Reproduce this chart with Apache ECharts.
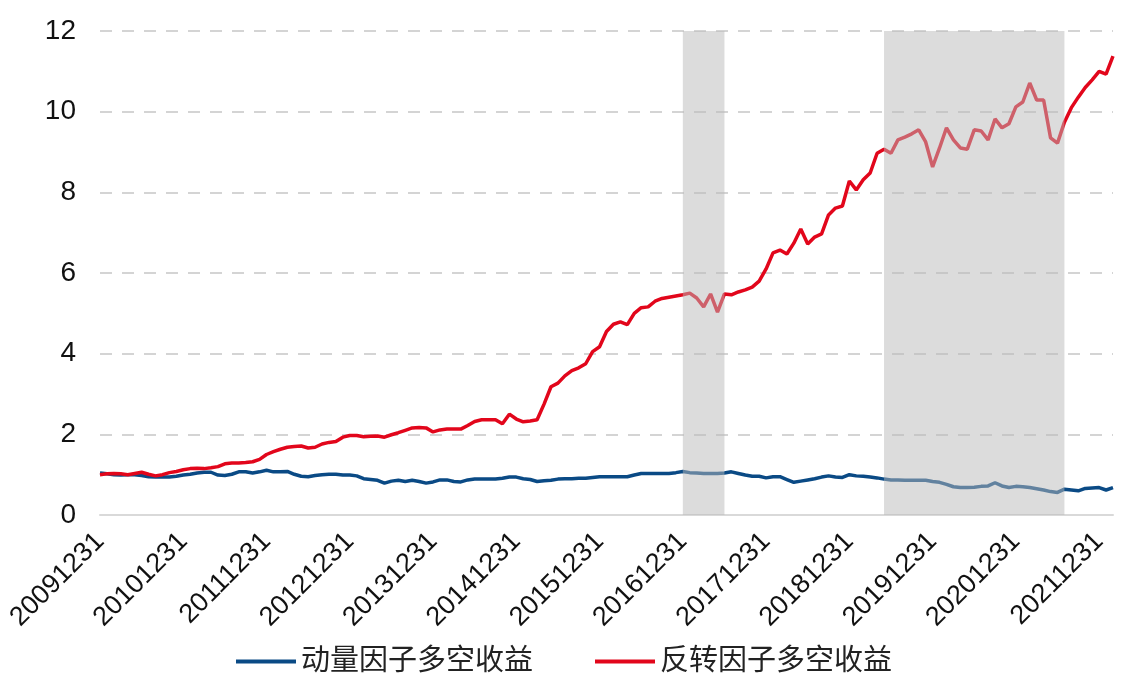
<!DOCTYPE html>
<html>
<head>
<meta charset="utf-8">
<script src="https://cdn.jsdelivr.net/npm/echarts@6/dist/echarts.min.js"></script>
<style>html,body{margin:0;padding:0;background:#fff}#c{width:1128px;height:687px}</style>
</head>
<body>
<div id="c"></div>
<script>
const dates = [
'20091231',
'20100131','20100228','20100331','20100430','20100531','20100630','20100731','20100831','20100930','20101031','20101130','20101231',
'20110131','20110228','20110331','20110430','20110531','20110630','20110731','20110831','20110930','20111031','20111130','20111231',
'20120131','20120229','20120331','20120430','20120531','20120630','20120731','20120831','20120930','20121031','20121130','20121231',
'20130131','20130228','20130331','20130430','20130531','20130630','20130731','20130831','20130930','20131031','20131130','20131231',
'20140131','20140228','20140331','20140430','20140531','20140630','20140731','20140831','20140930','20141031','20141130','20141231',
'20150131','20150228','20150331','20150430','20150531','20150630','20150731','20150831','20150930','20151031','20151130','20151231',
'20160131','20160229','20160331','20160430','20160531','20160630','20160731','20160831','20160930','20161031','20161130','20161231',
'20170131','20170228','20170331','20170430','20170531','20170630','20170731','20170831','20170930','20171031','20171130','20171231',
'20180131','20180228','20180331','20180430','20180531','20180630','20180731','20180831','20180930','20181031','20181130','20181231',
'20190131','20190228','20190331','20190430','20190531','20190630','20190731','20190831','20190930','20191031','20191130','20191231',
'20200131','20200229','20200331','20200430','20200531','20200630','20200731','20200831','20200930','20201031','20201130','20201231',
'20210131','20210228','20210331','20210430','20210531','20210630','20210731','20210831','20210930','20211031','20211130','20211231',
'20220131','20220228'
];

const momentum = [
1.04,1.02,1.0,0.99,1.0,1.0,0.98,0.95,0.94,0.94,
0.94,0.96,0.99,1.01,1.04,1.06,1.06,0.99,0.98,1.01,
1.07,1.07,1.04,1.07,1.11,1.07,1.07,1.08,1.01,0.96,
0.95,0.98,1.0,1.01,1.01,0.99,0.99,0.97,0.9,0.88,
0.86,0.79,0.84,0.86,0.83,0.86,0.83,0.79,0.82,0.87,
0.87,0.83,0.82,0.87,0.89,0.89,0.89,0.89,0.91,0.94,
0.94,0.9,0.88,0.83,0.85,0.86,0.89,0.9,0.9,0.91,
0.91,0.93,0.95,0.95,0.95,0.95,0.95,0.99,1.03,1.03,
1.03,1.03,1.03,1.05,1.08,1.05,1.04,1.03,1.03,1.03,
1.04,1.07,1.03,0.99,0.96,0.96,0.92,0.95,0.95,0.88,
0.81,0.84,0.87,0.9,0.94,0.97,0.94,0.93,1.0,0.97,
0.96,0.94,0.92,0.89,0.87,0.87,0.86,0.86,0.86,0.86,
0.83,0.81,0.76,0.7,0.68,0.68,0.69,0.71,0.72,0.8,
0.72,0.68,0.71,0.7,0.68,0.65,0.62,0.58,0.56,0.64,
0.62,0.6,0.66,0.67,0.68,0.62,0.68
];

const reversal = [
1.0,1.02,1.03,1.02,1.0,1.03,1.06,1.01,0.97,1.0,
1.05,1.08,1.12,1.15,1.16,1.15,1.17,1.2,1.27,1.29,
1.29,1.3,1.32,1.38,1.5,1.57,1.63,1.68,1.7,1.71,
1.66,1.68,1.76,1.8,1.82,1.93,1.97,1.97,1.94,1.95,
1.96,1.93,1.99,2.04,2.1,2.16,2.17,2.16,2.06,2.11,
2.13,2.13,2.13,2.22,2.32,2.36,2.36,2.36,2.26,2.5,
2.38,2.31,2.33,2.36,2.75,3.18,3.27,3.45,3.58,3.65,
3.75,4.05,4.17,4.55,4.73,4.79,4.72,5.0,5.14,5.16,
5.3,5.37,5.4,5.43,5.46,5.5,5.38,5.16,5.48,5.03,
5.48,5.46,5.53,5.58,5.65,5.8,6.1,6.5,6.57,6.47,
6.74,7.09,6.72,6.89,6.97,7.44,7.61,7.66,8.28,8.06,
8.31,8.48,8.97,9.07,8.97,9.3,9.37,9.45,9.55,9.25,
8.63,9.1,9.6,9.3,9.1,9.07,9.55,9.52,9.3,9.82,
9.6,9.7,10.12,10.24,10.71,10.29,10.29,9.35,9.22,9.74,
10.1,10.36,10.6,10.79,11.0,10.93,11.38
];

const seriesNames = ['动量因子多空收益', '反转因子多空收益'];
const shadeStarts = ['20161231', '20190531'];
const shadeEnds = ['20170630', '20210731'];
const yTicks = [0, 2, 4, 6, 8, 10, 12];

const FONT = "'Liberation Sans', Arial, 'Noto Sans CJK SC', sans-serif";
const chart = echarts.init(document.getElementById('c'), null, {renderer: 'canvas'});
chart.setOption({
  animation: false,
  backgroundColor: '#fff',
  grid: {left: 100, right: 15, top: 31, bottom: 172, containLabel: false},
  legend: {
    data: seriesNames,
    bottom: 6,
    left: 'center',
    icon: 'rect',
    itemWidth: 60,
    itemHeight: 4,
    itemGap: 62,
    textStyle: {fontSize: 29, color: '#222', fontFamily: FONT}
  },
  xAxis: {
    type: 'category',
    data: dates,
    boundaryGap: false,
    axisLine: {show: true, lineStyle: {color: '#d9d9d9', width: 2}},
    axisTick: {show: false},
    axisLabel: {
      interval: function (idx, val) { return val.slice(4) === '1231'; },
      rotate: 45,
      margin: 22,
      fontSize: 27,
      color: '#111',
      fontFamily: FONT
    },
    splitLine: {show: false}
  },
  yAxis: {
    type: 'value',
    min: yTicks[0],
    max: yTicks[yTicks.length - 1],
    interval: 2,
    axisLine: {show: false},
    axisTick: {show: false},
    axisLabel: {fontSize: 28, color: '#111', margin: 24, fontFamily: FONT},
    splitLine: {show: true, lineStyle: {color: '#d4d4d4', width: 2, type: [12, 10]}}
  },
  series: [
    {
      name: seriesNames[0],
      type: 'line',
      data: momentum,
      showSymbol: false,
      lineStyle: {color: '#0a4a85', width: 3.5},
      itemStyle: {color: '#0a4a85'},
      z: 3
    },
    {
      name: seriesNames[1],
      type: 'line',
      data: reversal,
      showSymbol: false,
      lineStyle: {color: '#e2061b', width: 3.5},
      itemStyle: {color: '#e2061b'},
      z: 3,
      markArea: {
        silent: true,
        z: 10,
        itemStyle: {color: 'rgba(185,185,185,0.5)'},
        label: {show: false},
        data: shadeStarts.map(function (s, k) { return [{xAxis: s}, {xAxis: shadeEnds[k]}]; })
      }
    }
  ]
});
</script>
</body>
</html>
